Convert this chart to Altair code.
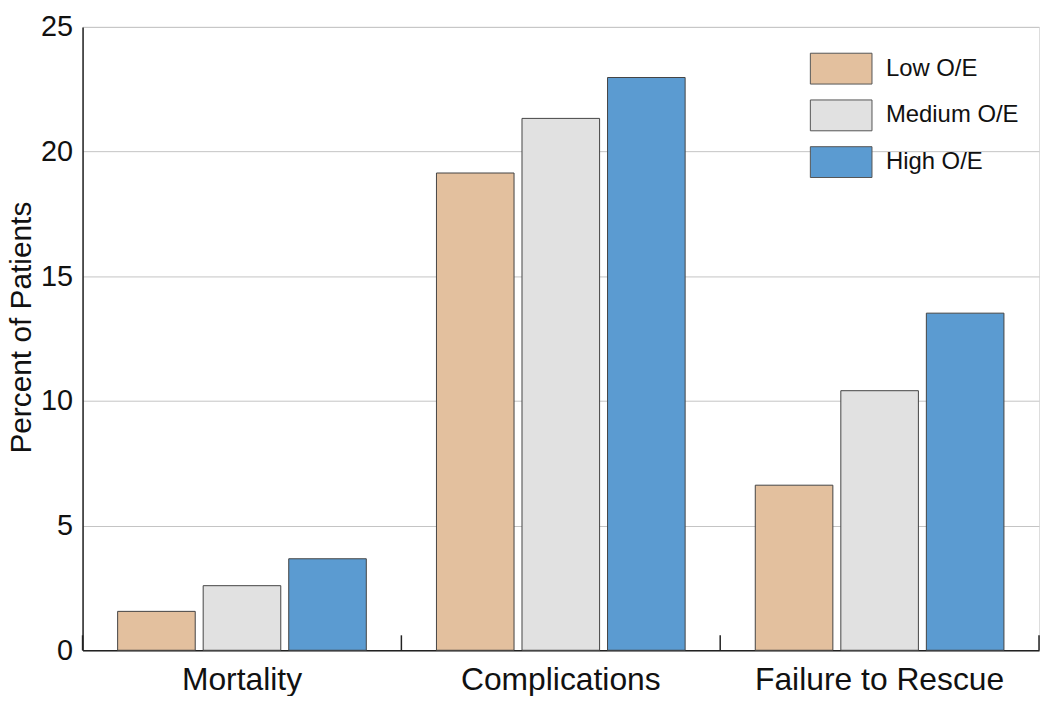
import altair as alt
import pandas as pd

categories = ["Mortality", "Complications", "Failure to Rescue"]
groups = ["Low O/E", "Medium O/E", "High O/E"]
low_vals = [1.56, 19.14, 6.62]
medium_vals = [2.59, 21.33, 10.41]
high_vals = [3.67, 22.97, 13.52]
colors = ["#e3c09e", "#e1e1e1", "#5b9bd1"]
y_ticks = [0, 5, 10, 15, 20, 25]

rows = []
for i, c in enumerate(categories):
    for g, vals in zip(groups, [low_vals, medium_vals, high_vals]):
        rows.append({"category": c, "group": g, "value": vals[i]})
df = pd.DataFrame(rows)

FONT = "Liberation Sans"

x_enc = alt.X(
    "category:N",
    sort=categories,
    scale=alt.Scale(paddingInner=0, paddingOuter=0),
    axis=alt.Axis(
        title=None, labelAngle=0, labelFontSize=32, labelColor="#111",
        labelFont=FONT, labelPadding=14, labelLimit=0, ticks=False,
        domainColor="#222", domainWidth=1.5, grid=False,
    ),
)

bars = alt.Chart(df).mark_bar(stroke="#444", strokeWidth=1).encode(
    x=x_enc,
    xOffset=alt.XOffset(
        "group:N", sort=groups,
        scale=alt.Scale(paddingInner=0.093, paddingOuter=0.41),
    ),
    y=alt.Y(
        "value:Q",
        scale=alt.Scale(domain=[0, 25], nice=False),
        axis=alt.Axis(
            values=y_ticks, title="Percent of Patients", titleFontSize=30,
            titleFont=FONT, titleFontWeight="normal", titleColor="#111",
            titleX=-52, titleY=302, titleAngle=270, titleAlign="center",
            titleBaseline="alphabetic",
            labelFontSize=29, labelFont=FONT, labelColor="#111",
            labelPadding=10, ticks=False, domainColor="#222", domainWidth=1.5,
            gridColor="#c4c4c4", gridWidth=1,
        ),
    ),
    color=alt.Color(
        "group:N", sort=groups,
        scale=alt.Scale(domain=groups, range=colors),
        legend=alt.Legend(
            title=None, orient="none", legendX=747, legendY=26, padding=0,
            symbolType="M-2,-1H2V1H-2Z", symbolSize=961,
            symbolStrokeColor="#555", symbolStrokeWidth=1,
            labelFontSize=24, labelFont=FONT, labelColor="#111",
            labelOffset=29, rowPadding=11, labelLimit=0,
        ),
    ),
)

tick_df = pd.DataFrame({
    "category": categories,
    "y0": [0, 0, 0],
    "y1": [0.6, 0.6, 0.6],
})

left_ticks = alt.Chart(tick_df).mark_rule(color="#222", strokeWidth=1.5).encode(
    x=alt.X("category:N", sort=categories, bandPosition=0),
    y="y0:Q",
    y2="y1:Q",
)
right_tick = alt.Chart(tick_df.tail(1)).mark_rule(color="#222", strokeWidth=1.5).encode(
    x=alt.X("category:N", sort=categories, bandPosition=1),
    y="y0:Q",
    y2="y1:Q",
)

chart = alt.layer(bars, left_ticks, right_tick).properties(
    width=962, height=627,
    autosize=alt.AutoSizeParams(type="none"),
    padding={"left": 75, "top": 17, "right": 3, "bottom": 44},
).configure_view(stroke=None).configure(background="white")

chart.save("out.html", embed_options={"renderer": "svg", "actions": False})
